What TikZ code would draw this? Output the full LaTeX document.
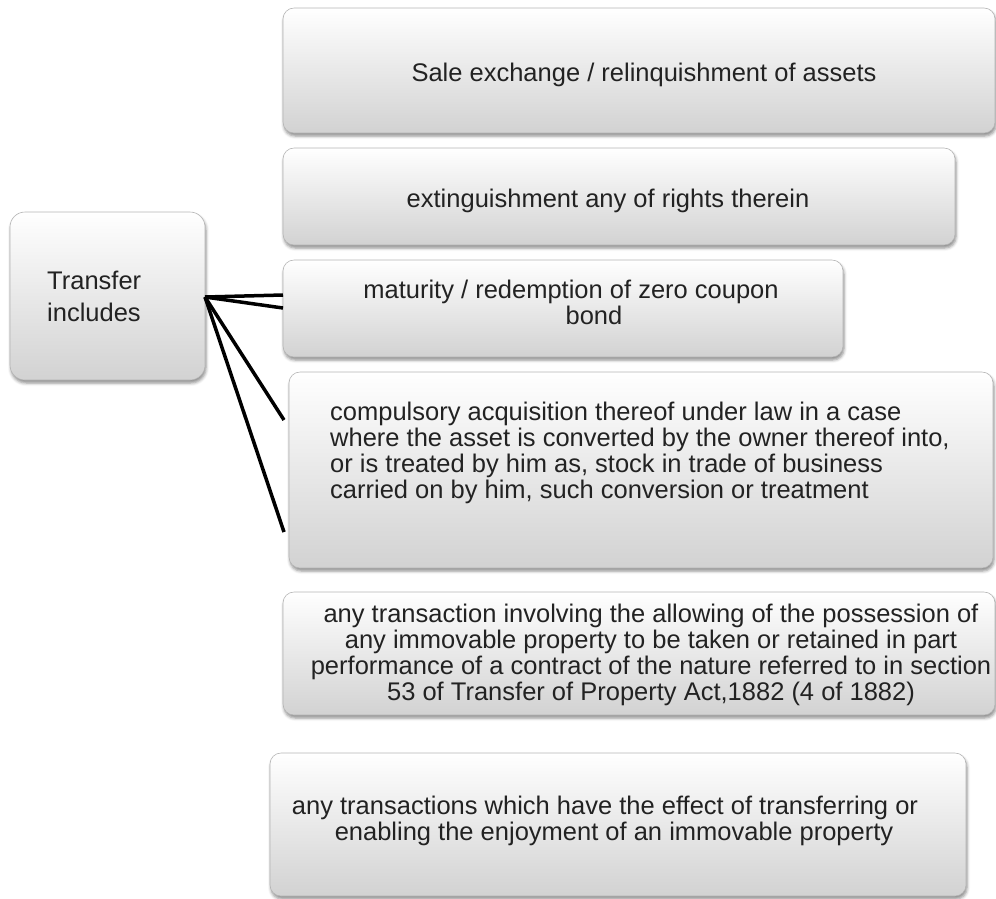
\documentclass[tikz,border=0pt]{standalone}
\usepackage{fontspec}
\setmainfont{Liberation Sans}
\usetikzlibrary{shadows,shadows.blur}
\definecolor{txtc}{HTML}{222222}
\definecolor{boxbot}{HTML}{D2D2D2}
\definecolor{boxedge}{HTML}{B4B4B4}
\begin{document}
\begin{tikzpicture}[x=1pt,y=-1pt,
  box/.style={draw=boxedge, line width=0.6pt, rounded corners=11pt, top color=white, bottom color=boxbot,
    inner sep=0pt, outer sep=0pt,
    blur shadow={shadow xshift=1pt, shadow yshift=-3pt, shadow blur radius=3pt, shadow opacity=45}},
  txt/.style={inner sep=0pt, text=txtc, font=\fontsize{25.5}{26}\selectfont},
  conn/.style={line width=3.5pt, black}]
\useasboundingbox (0,0) rectangle (996,898);
% boxes
\node[box, minimum width=195pt, minimum height=168pt, rounded corners=15pt] (tl) at (107.5,296) {};
\node[box, minimum width=712pt, minimum height=125pt] (b1) at (639,70.5) {};
\node[box, minimum width=672pt, minimum height=97pt] (b2) at (619,196.5) {};
\node[box, minimum width=560pt, minimum height=97pt] (b3) at (563,308.5) {};
\node[box, minimum width=704pt, minimum height=196pt] (b4) at (641,470) {};
\node[box, minimum width=712pt, minimum height=123pt] (b5) at (639,653.5) {};
\node[box, minimum width=696pt, minimum height=143pt] (b6) at (618,824.5) {};
% texts
\node[txt, align=left, anchor=west, font=\fontsize{25.5}{32}\selectfont] (ttl) at (47,296) {Transfer\\includes};
\node[txt] (t1) at (644,75) {Sale exchange / relinquishment of assets};
\node[txt] (t2) at (608,201) {extinguishment any of rights therein};
\node[txt, align=center] (t3) at (571,302) {maturity / redemption of zero coupon\\\hspace*{46pt}bond};
\node[txt, align=left, anchor=west] (t4) at (330,452.5) {compulsory acquisition thereof under law in a case\\where the asset is converted by the owner thereof into,\\or is treated by him as, stock in trade of business\\carried on by him, such conversion or treatment};
\node[txt, align=center] (t5) at (651,654.5) {any transaction involving the allowing of the possession of\\any immovable property to be taken or retained in part\\performance of a contract of the nature referred to in section\\53 of Transfer of Property Act,1882 (4 of 1882)};
\node[txt, align=center] (t6) at (605,820.5) {any transactions which have the effect of transferring or\\\hspace*{18pt}enabling the enjoyment of an immovable property};
% connector ends
\coordinate (c1) at (283,295);
\coordinate (c2) at (283,308);
\coordinate (c3) at (284,420);
\coordinate (c4) at (284,532);
\coordinate (o) at (205,297);
\draw[conn] (o) -- (c1);
\draw[conn] (o) -- (c2);
\draw[conn] (o) -- (c3);
\draw[conn] (o) -- (c4);
\end{tikzpicture}
\end{document}
